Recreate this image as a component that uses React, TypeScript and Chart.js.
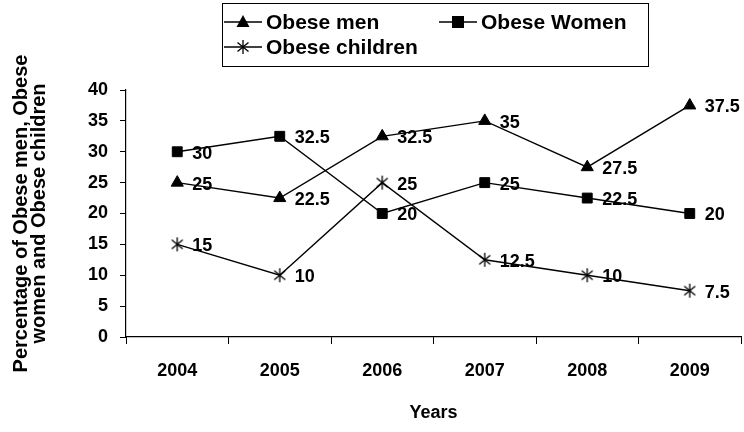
import React, { useEffect, useRef } from "react";
import { Chart, registerables } from "chart.js";

Chart.register(...registerables);

const years = ["2004", "2005", "2006", "2007", "2008", "2009"];
const obeseMen = [25, 22.5, 32.5, 35, 27.5, 37.5];
const obeseWomen = [30, 32.5, 20, 25, 22.5, 20];
const obeseChildren = [15, 10, 25, 12.5, 10, 7.5];
const seriesNames = ["Obese men", "Obese Women", "Obese children"];
const yTitle = ["Percentage of Obese men, Obese", "women and Obese children"];
const xTitle = "Years";

const FONT = "'Liberation Sans', Arial, sans-serif";

function makeAsterisk(): HTMLCanvasElement {
  const c = document.createElement("canvas");
  c.width = 16;
  c.height = 16;
  const ctx = c.getContext("2d")!;
  ctx.strokeStyle = "#000";
  ctx.lineWidth = 1.3;
  ctx.beginPath();
  ctx.moveTo(8, 1);
  ctx.lineTo(8, 15);
  ctx.moveTo(2.5, 3.5);
  ctx.lineTo(13.5, 12.5);
  ctx.moveTo(13.5, 3.5);
  ctx.lineTo(2.5, 12.5);
  ctx.stroke();
  return c;
}

function drawMarker(ctx: CanvasRenderingContext2D, kind: string, x: number, y: number) {
  ctx.save();
  ctx.fillStyle = "#000";
  ctx.strokeStyle = "#000";
  ctx.lineWidth = 1.3;
  if (kind === "triangle") {
    ctx.beginPath();
    ctx.moveTo(x, y - 7);
    ctx.lineTo(x + 6.5, y + 5);
    ctx.lineTo(x - 6.5, y + 5);
    ctx.closePath();
    ctx.fill();
  } else if (kind === "rect") {
    ctx.fillRect(x - 6, y - 6, 12, 12);
  } else {
    ctx.beginPath();
    ctx.moveTo(x, y - 7);
    ctx.lineTo(x, y + 7);
    ctx.moveTo(x - 5.5, y - 4.5);
    ctx.lineTo(x + 5.5, y + 4.5);
    ctx.moveTo(x + 5.5, y - 4.5);
    ctx.lineTo(x - 5.5, y + 4.5);
    ctx.stroke();
  }
  ctx.restore();
}

const legendPlugin = {
  id: "customLegend",
  afterDraw(chart: any) {
    const ctx = chart.ctx as CanvasRenderingContext2D;
    ctx.save();
    ctx.strokeStyle = "#000";
    ctx.lineWidth = 1;
    ctx.strokeRect(222.5, 3.5, 426, 63);
    ctx.font = `bold 21px ${FONT}`;
    ctx.fillStyle = "#000";
    ctx.textBaseline = "middle";
    const items = [
      { name: seriesNames[0], kind: "triangle", x: 224, y: 22 },
      { name: seriesNames[1], kind: "rect", x: 439, y: 22 },
      { name: seriesNames[2], kind: "star", x: 224, y: 47 },
    ];
    for (const it of items) {
      ctx.beginPath();
      ctx.lineWidth = 1.3;
      ctx.moveTo(it.x, it.y);
      ctx.lineTo(it.x + 38, it.y);
      ctx.stroke();
      drawMarker(ctx, it.kind, it.x + 19, it.y);
      ctx.fillText(it.name, it.x + 42, it.y + 1);
    }
    ctx.restore();
  },
};

const valueLabelPlugin = {
  id: "valueLabels",
  afterDatasetsDraw(chart: any) {
    const ctx = chart.ctx as CanvasRenderingContext2D;
    ctx.save();
    ctx.font = `bold 18px ${FONT}`;
    ctx.fillStyle = "#000";
    ctx.textBaseline = "middle";
    ctx.textAlign = "left";
    chart.data.datasets.forEach((ds: any, i: number) => {
      const meta = chart.getDatasetMeta(i);
      meta.data.forEach((pt: any, j: number) => {
        ctx.fillText(String(ds.data[j]), pt.x + 15, pt.y + 2);
      });
    });
    ctx.restore();
  },
};

export default function App() {
  const ref = useRef<HTMLCanvasElement | null>(null);

  useEffect(() => {
    document.body.style.margin = "0";
    const canvas = ref.current!;
    const star = makeAsterisk();
    const common = {
      borderColor: "#000",
      backgroundColor: "#000",
      borderWidth: 1.4,
      pointBackgroundColor: "#000",
      pointBorderColor: "#000",
      pointBorderWidth: 1,
      tension: 0,
    };
    const chart = new Chart(canvas, {
      type: "line",
      data: {
        labels: years,
        datasets: [
          { ...common, label: seriesNames[0], data: obeseMen, pointStyle: "triangle", pointRadius: 7 },
          { ...common, label: seriesNames[1], data: obeseWomen, pointStyle: "rect", pointRadius: 7 },
          { ...common, label: seriesNames[2], data: obeseChildren, pointStyle: star as any, pointRadius: 7 },
        ],
      },
      options: {
        responsive: false,
        animation: false,
        layout: { autoPadding: false, padding: { top: 90, right: 3, left: 0, bottom: 0 } },
        plugins: {
          legend: { display: false },
          tooltip: { enabled: false },
        },
        scales: {
          x: {
            type: "category",
            offset: true,
            grid: { display: true, drawOnChartArea: false, offset: true, tickLength: 7, color: "#000", lineWidth: 1 },
            border: { display: true, color: "#000", width: 1.2 },
            ticks: { color: "#000", font: { family: FONT, size: 18, weight: "bold" }, padding: 16, maxRotation: 0 },
            title: {
              display: true,
              text: xTitle,
              color: "#000",
              font: { family: FONT, size: 18, weight: "bold" },
              padding: { top: 0, bottom: 8 },
            },
            afterFit: (s: any) => {
              s.height = 95;
              s.paddingLeft = 0;
              s.paddingRight = 0;
            },
          },
          y: {
            min: 0,
            max: 40,
            ticks: { stepSize: 5, color: "#000", font: { family: FONT, size: 18, weight: "bold" }, padding: 12 },
            grid: { display: true, drawOnChartArea: false, tickLength: 6, color: "#000", lineWidth: 1 },
            border: { display: true, color: "#000", width: 1.2 },
            title: {
              display: true,
              text: yTitle,
              color: "#000",
              font: { family: FONT, size: 20, weight: "bold", lineHeight: "18px" },
              padding: { top: 12, bottom: 0 },
            },
            afterFit: (s: any) => {
              s.width = 126;
            },
          },
        },
      },
      plugins: [valueLabelPlugin, legendPlugin],
    });
    return () => chart.destroy();
  }, []);

  return (
    <div style={{ width: 744, height: 432 }}>
      <canvas ref={ref} width={744} height={432} style={{ display: "block" }} />
    </div>
  );
}
